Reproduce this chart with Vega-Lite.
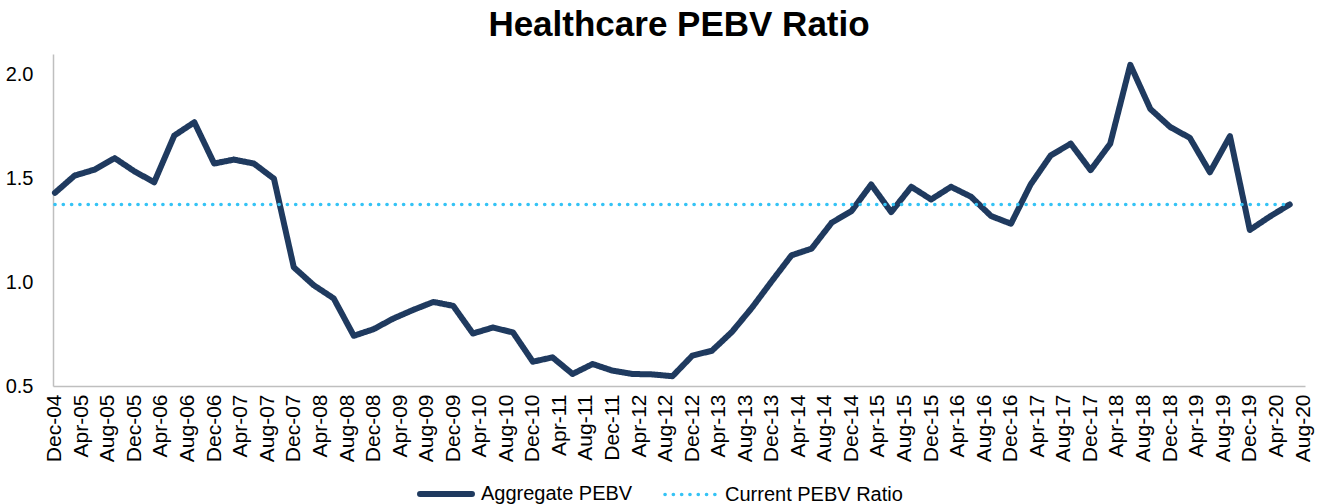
{
  "$schema": "https://vega.github.io/schema/vega-lite/v6.json",
  "width": 1252,
  "height": 332,
  "padding": {"left": 5, "top": 8, "right": 13, "bottom": 5},
  "title": {"text": "Healthcare PEBV Ratio", "fontSize": 35, "font": "Liberation Sans", "fontWeight": "bold", "color": "#000000", "anchor": "middle", "offset": 11},
  "config": {
    "view": {"stroke": null},
    "font": "Liberation Sans",
    "legend": {"symbolType": "stroke", "symbolSize": 2700, "labelFontSize": 20, "labelColor": "#000000", "labelFont": "Liberation Sans", "labelLimit": 0, "columnPadding": 24, "labelOffset": 6, "orient": "none", "legendX": 364, "legendY": 411, "direction": "horizontal", "padding": 0}
  },
  "data": {
    "format": {"parse": {"date": "date:'%Y-%m-%d'"}},
    "values": [
      {"date": "2004-12-01", "Aggregate PEBV": 1.431, "Current PEBV Ratio": 1.375},
      {"date": "2005-03-01", "Aggregate PEBV": 1.514, "Current PEBV Ratio": 1.375},
      {"date": "2005-06-01", "Aggregate PEBV": 1.543, "Current PEBV Ratio": 1.375},
      {"date": "2005-09-01", "Aggregate PEBV": 1.598, "Current PEBV Ratio": 1.375},
      {"date": "2005-12-01", "Aggregate PEBV": 1.534, "Current PEBV Ratio": 1.375},
      {"date": "2006-03-01", "Aggregate PEBV": 1.482, "Current PEBV Ratio": 1.375},
      {"date": "2006-06-01", "Aggregate PEBV": 1.707, "Current PEBV Ratio": 1.375},
      {"date": "2006-09-01", "Aggregate PEBV": 1.771, "Current PEBV Ratio": 1.375},
      {"date": "2006-12-01", "Aggregate PEBV": 1.572, "Current PEBV Ratio": 1.375},
      {"date": "2007-03-01", "Aggregate PEBV": 1.591, "Current PEBV Ratio": 1.375},
      {"date": "2007-06-01", "Aggregate PEBV": 1.572, "Current PEBV Ratio": 1.375},
      {"date": "2007-09-01", "Aggregate PEBV": 1.499, "Current PEBV Ratio": 1.375},
      {"date": "2007-12-01", "Aggregate PEBV": 1.072, "Current PEBV Ratio": 1.375},
      {"date": "2008-03-01", "Aggregate PEBV": 0.986, "Current PEBV Ratio": 1.375},
      {"date": "2008-06-01", "Aggregate PEBV": 0.922, "Current PEBV Ratio": 1.375},
      {"date": "2008-09-01", "Aggregate PEBV": 0.742, "Current PEBV Ratio": 1.375},
      {"date": "2008-12-01", "Aggregate PEBV": 0.774, "Current PEBV Ratio": 1.375},
      {"date": "2009-03-01", "Aggregate PEBV": 0.825, "Current PEBV Ratio": 1.375},
      {"date": "2009-06-01", "Aggregate PEBV": 0.867, "Current PEBV Ratio": 1.375},
      {"date": "2009-09-01", "Aggregate PEBV": 0.905, "Current PEBV Ratio": 1.375},
      {"date": "2009-12-01", "Aggregate PEBV": 0.886, "Current PEBV Ratio": 1.375},
      {"date": "2010-03-01", "Aggregate PEBV": 0.753, "Current PEBV Ratio": 1.375},
      {"date": "2010-06-01", "Aggregate PEBV": 0.782, "Current PEBV Ratio": 1.375},
      {"date": "2010-09-01", "Aggregate PEBV": 0.758, "Current PEBV Ratio": 1.375},
      {"date": "2010-12-01", "Aggregate PEBV": 0.617, "Current PEBV Ratio": 1.375},
      {"date": "2011-03-01", "Aggregate PEBV": 0.638, "Current PEBV Ratio": 1.375},
      {"date": "2011-06-01", "Aggregate PEBV": 0.558, "Current PEBV Ratio": 1.375},
      {"date": "2011-09-01", "Aggregate PEBV": 0.606, "Current PEBV Ratio": 1.375},
      {"date": "2011-12-01", "Aggregate PEBV": 0.574, "Current PEBV Ratio": 1.375},
      {"date": "2012-03-01", "Aggregate PEBV": 0.558, "Current PEBV Ratio": 1.375},
      {"date": "2012-06-01", "Aggregate PEBV": 0.556, "Current PEBV Ratio": 1.375},
      {"date": "2012-09-01", "Aggregate PEBV": 0.547, "Current PEBV Ratio": 1.375},
      {"date": "2012-12-01", "Aggregate PEBV": 0.646, "Current PEBV Ratio": 1.375},
      {"date": "2013-03-01", "Aggregate PEBV": 0.670, "Current PEBV Ratio": 1.375},
      {"date": "2013-06-01", "Aggregate PEBV": 0.761, "Current PEBV Ratio": 1.375},
      {"date": "2013-09-01", "Aggregate PEBV": 0.878, "Current PEBV Ratio": 1.375},
      {"date": "2013-12-01", "Aggregate PEBV": 1.006, "Current PEBV Ratio": 1.375},
      {"date": "2014-03-01", "Aggregate PEBV": 1.130, "Current PEBV Ratio": 1.375},
      {"date": "2014-06-01", "Aggregate PEBV": 1.162, "Current PEBV Ratio": 1.375},
      {"date": "2014-09-01", "Aggregate PEBV": 1.287, "Current PEBV Ratio": 1.375},
      {"date": "2014-12-01", "Aggregate PEBV": 1.343, "Current PEBV Ratio": 1.375},
      {"date": "2015-03-01", "Aggregate PEBV": 1.471, "Current PEBV Ratio": 1.375},
      {"date": "2015-06-01", "Aggregate PEBV": 1.338, "Current PEBV Ratio": 1.375},
      {"date": "2015-09-01", "Aggregate PEBV": 1.460, "Current PEBV Ratio": 1.375},
      {"date": "2015-12-01", "Aggregate PEBV": 1.399, "Current PEBV Ratio": 1.375},
      {"date": "2016-03-01", "Aggregate PEBV": 1.460, "Current PEBV Ratio": 1.375},
      {"date": "2016-06-01", "Aggregate PEBV": 1.412, "Current PEBV Ratio": 1.375},
      {"date": "2016-09-01", "Aggregate PEBV": 1.319, "Current PEBV Ratio": 1.375},
      {"date": "2016-12-01", "Aggregate PEBV": 1.282, "Current PEBV Ratio": 1.375},
      {"date": "2017-03-01", "Aggregate PEBV": 1.471, "Current PEBV Ratio": 1.375},
      {"date": "2017-06-01", "Aggregate PEBV": 1.611, "Current PEBV Ratio": 1.375},
      {"date": "2017-09-01", "Aggregate PEBV": 1.668, "Current PEBV Ratio": 1.375},
      {"date": "2017-12-01", "Aggregate PEBV": 1.540, "Current PEBV Ratio": 1.375},
      {"date": "2018-03-01", "Aggregate PEBV": 1.668, "Current PEBV Ratio": 1.375},
      {"date": "2018-06-01", "Aggregate PEBV": 2.048, "Current PEBV Ratio": 1.375},
      {"date": "2018-09-01", "Aggregate PEBV": 1.835, "Current PEBV Ratio": 1.375},
      {"date": "2018-12-01", "Aggregate PEBV": 1.748, "Current PEBV Ratio": 1.375},
      {"date": "2019-03-01", "Aggregate PEBV": 1.696, "Current PEBV Ratio": 1.375},
      {"date": "2019-06-01", "Aggregate PEBV": 1.530, "Current PEBV Ratio": 1.375},
      {"date": "2019-09-01", "Aggregate PEBV": 1.704, "Current PEBV Ratio": 1.375},
      {"date": "2019-12-01", "Aggregate PEBV": 1.252, "Current PEBV Ratio": 1.375},
      {"date": "2020-03-01", "Aggregate PEBV": 1.316, "Current PEBV Ratio": 1.375},
      {"date": "2020-06-01", "Aggregate PEBV": 1.375, "Current PEBV Ratio": 1.375}
    ]
  },
  "transform": [{"fold": ["Aggregate PEBV", "Current PEBV Ratio"], "as": ["series", "value"]}],
  "mark": {"type": "line", "strokeCap": "round", "strokeJoin": "round"},
  "encoding": {
    "x": {
      "field": "date", "type": "temporal", "title": null,
      "scale": {"domain": [{"year": 2004, "month": 11, "date": 22}, {"year": 2020, "month": 8, "date": 10}]},
      "axis": {
        "format": "%b-%y", "labelAngle": 270, "labelFontSize": 21, "labelColor": "#000000", "labelFont": "Liberation Sans",
        "grid": false, "ticks": false, "domainColor": "#BFBFBF", "domainWidth": 1.5, "labelPadding": 8, "labelOverlap": false, "labelFlush": false,
        "values": [
          {"year": 2004, "month": 12, "date": 1},
          {"year": 2005, "month": 4, "date": 1}, {"year": 2005, "month": 8, "date": 1}, {"year": 2005, "month": 12, "date": 1},
          {"year": 2006, "month": 4, "date": 1}, {"year": 2006, "month": 8, "date": 1}, {"year": 2006, "month": 12, "date": 1},
          {"year": 2007, "month": 4, "date": 1}, {"year": 2007, "month": 8, "date": 1}, {"year": 2007, "month": 12, "date": 1},
          {"year": 2008, "month": 4, "date": 1}, {"year": 2008, "month": 8, "date": 1}, {"year": 2008, "month": 12, "date": 1},
          {"year": 2009, "month": 4, "date": 1}, {"year": 2009, "month": 8, "date": 1}, {"year": 2009, "month": 12, "date": 1},
          {"year": 2010, "month": 4, "date": 1}, {"year": 2010, "month": 8, "date": 1}, {"year": 2010, "month": 12, "date": 1},
          {"year": 2011, "month": 4, "date": 1}, {"year": 2011, "month": 8, "date": 1}, {"year": 2011, "month": 12, "date": 1},
          {"year": 2012, "month": 4, "date": 1}, {"year": 2012, "month": 8, "date": 1}, {"year": 2012, "month": 12, "date": 1},
          {"year": 2013, "month": 4, "date": 1}, {"year": 2013, "month": 8, "date": 1}, {"year": 2013, "month": 12, "date": 1},
          {"year": 2014, "month": 4, "date": 1}, {"year": 2014, "month": 8, "date": 1}, {"year": 2014, "month": 12, "date": 1},
          {"year": 2015, "month": 4, "date": 1}, {"year": 2015, "month": 8, "date": 1}, {"year": 2015, "month": 12, "date": 1},
          {"year": 2016, "month": 4, "date": 1}, {"year": 2016, "month": 8, "date": 1}, {"year": 2016, "month": 12, "date": 1},
          {"year": 2017, "month": 4, "date": 1}, {"year": 2017, "month": 8, "date": 1}, {"year": 2017, "month": 12, "date": 1},
          {"year": 2018, "month": 4, "date": 1}, {"year": 2018, "month": 8, "date": 1}, {"year": 2018, "month": 12, "date": 1},
          {"year": 2019, "month": 4, "date": 1}, {"year": 2019, "month": 8, "date": 1}, {"year": 2019, "month": 12, "date": 1},
          {"year": 2020, "month": 4, "date": 1}, {"year": 2020, "month": 8, "date": 1}
        ]
      }
    },
    "y": {
      "field": "value", "type": "quantitative", "title": null,
      "scale": {"domain": [0.5, 2.1], "nice": false, "zero": false},
      "axis": {"values": [0.5, 1.0, 1.5, 2.0], "format": ".1f", "labelFontSize": 20, "labelColor": "#000000", "labelFont": "Liberation Sans",
        "grid": false, "ticks": false, "domainColor": "#BFBFBF", "domainWidth": 1.5, "labelPadding": 20, "labelFlush": false}
    },
    "color": {
      "field": "series", "type": "nominal",
      "scale": {"domain": ["Aggregate PEBV", "Current PEBV Ratio"], "range": ["#1F3A5F", "#35C3F5"]},
      "legend": {"title": null, "encode": {"symbols": {"update": {"strokeCap": {"value": "round"}}}}}
    },
    "strokeDash": {
      "field": "series", "type": "nominal",
      "scale": {"domain": ["Aggregate PEBV", "Current PEBV Ratio"], "range": [[1, 0], [0.1, 8.2]]},
      "legend": {"title": null}
    },
    "strokeWidth": {
      "field": "series", "type": "ordinal",
      "scale": {"domain": ["Aggregate PEBV", "Current PEBV Ratio"], "range": [6, 3.6]},
      "legend": {"title": null}
    }
  }
}
